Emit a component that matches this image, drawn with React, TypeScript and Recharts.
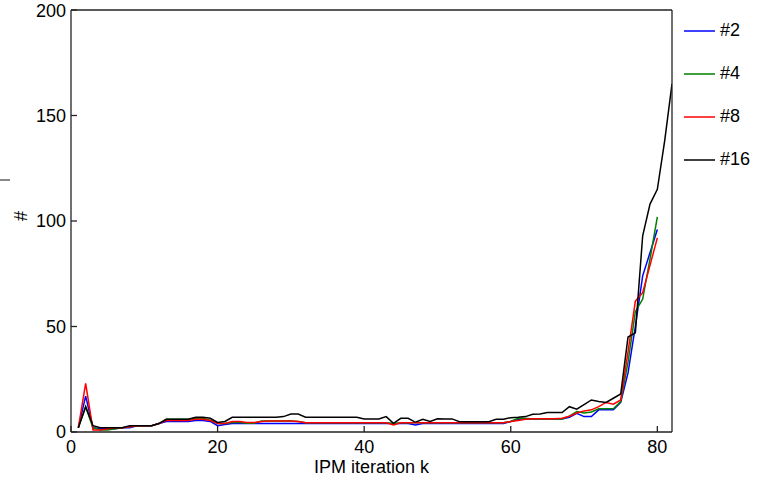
import React from 'react';
import { LineChart, Line, XAxis, YAxis } from 'recharts';

const iterations: number[] = Array.from({ length: 82 }, (_, i) => i + 1);

const s2: number[] = [
  2, 17, 2, 1.5, 1.5, 1.5, 2, 2, 3, 3,
  3, 4, 5, 5, 5, 5, 5.5, 5.5, 5, 3,
  3.5, 4, 4, 4, 4, 4, 4, 4, 4, 4,
  4, 4, 4, 4, 4, 4, 4, 4, 4, 4,
  4, 4, 4, 4, 4, 4, 3.3, 4, 4, 4,
  4, 4, 4, 4, 4, 4, 4, 4, 4, 5,
  6, 6, 6.2, 6.2, 6.2, 6.2, 6.2, 7, 8.9, 7.3,
  7.3, 10.5, 10.5, 10.5, 14, 28, 50, 74, 85, 96,
];

const s4: number[] = [
  2, 12, 2, 1, 1, 1.5, 2, 2.5, 3, 3,
  3, 4, 6, 6, 6, 6, 6.5, 6.5, 5.5, 4,
  4, 4.5, 4.5, 4.2, 4.2, 5.2, 5.2, 5.2, 5.2, 5.2,
  5, 4.4, 4.4, 4.4, 4.4, 4.4, 4.4, 4.4, 4.4, 4.4,
  4.4, 4.4, 4.4, 4, 4.4, 4.4, 4.4, 4.4, 4.4, 4.4,
  4.4, 4.4, 4.4, 4.4, 4.4, 4.4, 4.4, 4.4, 4.4, 5,
  6.5, 6.5, 6.2, 6.2, 6.2, 6.2, 6.2, 7.5, 9.7, 9,
  9.5, 11, 11, 11, 14.4, 33, 57, 63, 82, 102,
];

const s8: number[] = [
  2, 23, 1, 1, 1.5, 2, 2, 2.5, 3, 3,
  3, 4, 5.5, 5.5, 5.5, 5.5, 6, 6, 5.5, 4,
  4, 5, 5, 4.5, 4.5, 5, 5.2, 5.2, 5.2, 5.2,
  5, 4.4, 4.4, 4.4, 4.4, 4.4, 4.4, 4.4, 4.4, 4.4,
  4.4, 4.4, 4.4, 3.3, 4.4, 4.4, 4.4, 4.4, 4.4, 4.4,
  4.4, 4.4, 4.4, 4.4, 4.4, 4.4, 4.4, 4.4, 4.4, 5,
  5.5, 6, 6.3, 6.3, 6.3, 6.3, 6.5, 7.5, 9, 10,
  10.5, 12, 14, 13.2, 15.2, 38, 62, 66, 79, 92,
];

const s16: number[] = [
  2, 12, 3, 2, 2, 2, 2, 3, 3, 3,
  3, 4, 6, 6, 6, 6, 7, 7, 6.5, 4.5,
  5, 7, 7, 7, 7, 7, 7, 7, 7.3, 8.5,
  8.5, 7, 7, 7, 7, 7, 7, 7, 7, 6.2,
  6.2, 6.2, 7.3, 4.1, 6.5, 6.5, 4.6, 6, 5, 6.3,
  6.2, 6.2, 4.9, 4.9, 4.9, 4.9, 4.9, 6, 6, 6.8,
  7, 7.3, 8.4, 8.5, 9.2, 9.2, 9.2, 12, 10.8, 13,
  15.2, 14.5, 14, 16, 18, 45, 47, 93, 108, 115,
  138, 165,
];

const seriesNames: string[] = ['#2', '#4', '#8', '#16'];
const seriesColors: string[] = ['#0000ff', '#008000', '#ff0000', '#000000'];
const xTicks: number[] = [0, 20, 40, 60, 80];
const yTicks: number[] = [0, 50, 100, 150, 200];

const seriesData: number[][] = [s2, s4, s8, s16];
const keys = ['s2', 's4', 's8', 's16'];

const data = iterations.map((k, i) => {
  const row: Record<string, number | undefined> = { k };
  keys.forEach((key, j) => {
    row[key] = seriesData[j][i];
  });
  return row;
});

const FONT = '"Liberation Sans", Arial, Helvetica, sans-serif';
const AXIS_COLOR = '#222';

const LegendBox = () => (
  <div style={{ position: 'absolute', left: 684, top: 9, width: 80, fontFamily: FONT, fontSize: 18, color: '#000' }}>
    {seriesNames.map((name, i) => (
      <div key={name} style={{ display: 'flex', alignItems: 'center', height: 43 }}>
        <svg width={31} height={4} style={{ marginRight: 5 }}>
          <line x1={0} y1={2} x2={31} y2={2} stroke={seriesColors[i]} strokeWidth={1.5} />
        </svg>
        <span>{name}</span>
      </div>
    ))}
  </div>
);

export default function App() {
  return (
    <div style={{ position: 'absolute', left: 0, top: 0, width: 766, height: 486, background: '#fff' }}>
      <div style={{ position: 'absolute', left: 0, top: 179, width: 10, height: 1.5, background: '#888' }} />
      <LineChart
        width={766}
        height={486}
        data={data}
        margin={{ top: 0, right: 84, left: 11, bottom: 9 }}
      >
        <XAxis
          xAxisId="b"
          dataKey="k"
          type="number"
          domain={[0, 82]}
          ticks={xTicks}
          allowDataOverflow
          height={45}
          stroke={AXIS_COLOR}
          strokeWidth={1.3}
          tickSize={-6}
          tickMargin={14}
          tick={{ fill: '#000', fontSize: 18, fontFamily: FONT }}
          label={{ value: 'IPM iteration k', position: 'insideBottom', offset: 4, fill: '#000', fontSize: 18, fontFamily: FONT }}
        />
        <XAxis
          xAxisId="t"
          orientation="top"
          dataKey="k"
          type="number"
          domain={[0, 82]}
          ticks={xTicks}
          allowDataOverflow
          height={10}
          stroke={AXIS_COLOR}
          strokeWidth={1.3}
          tickSize={-6}
          tick={false}
        />
        <YAxis
          yAxisId="l"
          type="number"
          domain={[0, 200]}
          ticks={yTicks}
          allowDataOverflow
          width={60}
          stroke={AXIS_COLOR}
          strokeWidth={1.3}
          tickSize={-6}
          tickMargin={11}
          tick={{ fill: '#000', fontSize: 18, fontFamily: FONT }}
          label={{ value: '#', angle: -90, position: 'insideLeft', offset: 10, fill: '#000', fontSize: 18, fontFamily: FONT }}
        />
        <YAxis
          yAxisId="r"
          orientation="right"
          type="number"
          domain={[0, 200]}
          ticks={yTicks}
          allowDataOverflow
          width={10}
          stroke={AXIS_COLOR}
          strokeWidth={1.3}
          tickSize={-6}
          tick={false}
        />
        {keys.map((key, i) => (
          <Line
            key={key}
            xAxisId="b"
            yAxisId="l"
            type="linear"
            dataKey={key}
            name={seriesNames[i]}
            stroke={seriesColors[i]}
            strokeWidth={1.5}
            dot={false}
            activeDot={false}
            isAnimationActive={false}
            connectNulls={false}
          />
        ))}
      </LineChart>
      <LegendBox />
    </div>
  );
}
